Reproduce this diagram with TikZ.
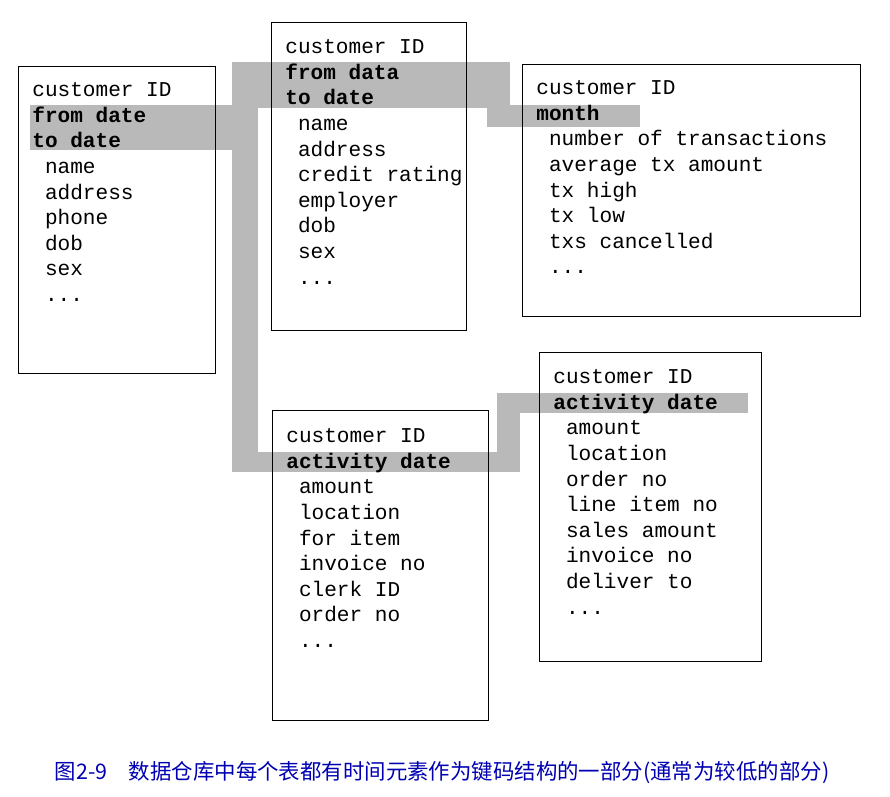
\documentclass[tikz,border=0pt]{standalone}
\usepackage{fontspec}
\setmonofont{Liberation Mono}
\newfontfamily\cjk{Noto Sans CJK SC}
\begin{document}
\begin{tikzpicture}[
    x=0.02cm, y=-0.02cm,
    box/.style={rectangle, draw, line width=0.8pt, anchor=north west, inner sep=0pt},
    rows/.style={anchor=north west, align=left, inner sep=0pt,
      font=\ttfamily\fontsize{12}{14.6}\selectfont},
    band/.style={fill=gray!55, draw=none}
]
\useasboundingbox (0,0) rectangle (890,796);

% Key bands
\fill[band] (30,105) rectangle (258,150);
\fill[band] (232,62) rectangle (258,472);
\fill[band] (258,62) rectangle (505,108);
\fill[band] (487,62) rectangle (510,127);
\fill[band] (487,105) rectangle (640,127);
\fill[band] (258,452) rectangle (520,472);
\fill[band] (497,393) rectangle (520,472);
\fill[band] (520,393) rectangle (748,413);

% Tables
\node[box, minimum width=3.94cm, minimum height=6.14cm] (b1) at (18,66) {};
\node[box, minimum width=3.90cm, minimum height=6.16cm] (b2) at (271,22) {};
\node[box, minimum width=6.76cm, minimum height=5.04cm] (b3) at (522,64) {};
\node[box, minimum width=4.44cm, minimum height=6.18cm] (b4) at (539,352) {};
\node[box, minimum width=4.32cm, minimum height=6.20cm] (b5) at (272,410) {};

\node[rows] (t1) at (32,82) {customer ID\\\textbf{from date}\\\textbf{to date}\\
  \ name\\ \ address\\ \ phone\\ \ dob\\ \ sex\\ \ ...};
\node[rows] (t2) at (285,39) {customer ID\\\textbf{from data}\\\textbf{to date}\\
  \ name\\ \ address\\ \ credit rating\\ \ employer\\ \ dob\\ \ sex\\ \ ...};
\node[rows] (t3) at (536,80) {customer ID\\\textbf{month}\\
  \ number of transactions\\ \ average tx amount\\ \ tx high\\ \ tx low\\
  \ txs cancelled\\ \ ...};
\node[rows] (t4) at (553,369) {customer ID\\\textbf{activity date}\\
  \ amount\\ \ location\\ \ order no\\ \ line item no\\ \ sales amount\\
  \ invoice no\\ \ deliver to\\ \ ...};
\node[rows] (t5) at (286,428) {customer ID\\\textbf{activity date}\\
  \ amount\\ \ location\\ \ for item\\ \ invoice no\\ \ clerk ID\\
  \ order no\\ \ ...};

% Caption
\node[font=\cjk\fontsize{12.2}{14}\selectfont, text=blue!70!black] (cap) at (442,773)
  {图2-9\quad 数据仓库中每个表都有时间元素作为键码结构的一部分(通常为较低的部分)};
\end{tikzpicture}
\end{document}
